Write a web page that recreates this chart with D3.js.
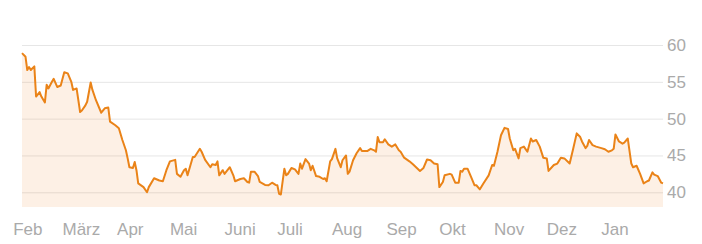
<!DOCTYPE html>
<html>
<head>
<meta charset="utf-8">
<script src="https://cdn.jsdelivr.net/npm/d3@7"></script>
<style>
    html, body { margin: 0; padding: 0; background: #fff; }
    svg { display: block; }
    text { font-family: "Liberation Sans", Arial, sans-serif; }
</style>
</head>
<body>
<svg id="chart" width="702" height="244"></svg>
<script>
const dates = [
    '2023-02-06', '2023-02-08', '2023-02-09', '2023-02-10', '2023-02-11', '2023-02-13', '2023-02-14', '2023-02-16',
    '2023-02-17', '2023-02-19', '2023-02-20', '2023-02-21', '2023-02-23', '2023-02-24', '2023-02-26', '2023-02-28',
    '2023-03-02', '2023-03-04', '2023-03-06', '2023-03-07', '2023-03-09', '2023-03-11', '2023-03-12', '2023-03-14',
    '2023-03-15', '2023-03-17', '2023-03-18', '2023-03-20', '2023-03-23', '2023-03-25', '2023-03-27', '2023-03-28',
    '2023-03-31', '2023-04-02', '2023-04-04', '2023-04-06', '2023-04-07', '2023-04-08', '2023-04-10', '2023-04-11',
    '2023-04-12', '2023-04-13', '2023-04-16', '2023-04-18', '2023-04-19', '2023-04-22', '2023-04-25', '2023-04-27',
    '2023-04-29', '2023-05-01', '2023-05-04', '2023-05-05', '2023-05-07', '2023-05-09', '2023-05-10', '2023-05-11',
    '2023-05-14', '2023-05-15', '2023-05-18', '2023-05-19', '2023-05-21', '2023-05-24', '2023-05-25', '2023-05-27',
    '2023-05-28', '2023-05-29', '2023-05-31', '2023-06-01', '2023-06-04', '2023-06-06', '2023-06-07', '2023-06-10',
    '2023-06-12', '2023-06-14', '2023-06-15', '2023-06-16', '2023-06-18', '2023-06-20', '2023-06-21', '2023-06-24',
    '2023-06-26', '2023-06-28', '2023-06-30', '2023-07-01', '2023-07-02', '2023-07-03', '2023-07-05', '2023-07-06',
    '2023-07-07', '2023-07-09', '2023-07-11', '2023-07-13', '2023-07-14', '2023-07-15', '2023-07-17', '2023-07-19',
    '2023-07-20', '2023-07-21', '2023-07-23', '2023-07-25', '2023-07-27', '2023-07-28', '2023-07-29', '2023-07-31',
    '2023-08-01', '2023-08-03', '2023-08-04', '2023-08-06', '2023-08-07', '2023-08-09', '2023-08-10', '2023-08-11',
    '2023-08-13', '2023-08-15', '2023-08-17', '2023-08-18', '2023-08-21', '2023-08-23', '2023-08-25', '2023-08-26',
    '2023-08-27', '2023-08-28', '2023-08-30', '2023-08-31', '2023-09-02', '2023-09-04', '2023-09-06', '2023-09-08',
    '2023-09-09', '2023-09-11', '2023-09-14', '2023-09-16', '2023-09-20', '2023-09-22', '2023-09-24', '2023-09-26',
    '2023-09-28', '2023-09-30', '2023-10-01', '2023-10-03', '2023-10-04', '2023-10-07', '2023-10-08', '2023-10-10',
    '2023-10-12', '2023-10-13', '2023-10-14', '2023-10-15', '2023-10-17', '2023-10-19', '2023-10-21', '2023-10-22',
    '2023-10-24', '2023-10-26', '2023-10-29', '2023-10-31', '2023-11-01', '2023-11-03', '2023-11-05', '2023-11-07',
    '2023-11-09', '2023-11-10', '2023-11-12', '2023-11-13', '2023-11-15', '2023-11-16', '2023-11-18', '2023-11-20',
    '2023-11-22', '2023-11-23', '2023-11-25', '2023-11-27', '2023-11-29', '2023-12-01', '2023-12-02', '2023-12-05',
    '2023-12-07', '2023-12-09', '2023-12-11', '2023-12-14', '2023-12-16', '2023-12-18', '2023-12-20', '2023-12-21',
    '2023-12-23', '2023-12-24', '2023-12-25', '2023-12-27', '2023-12-29', '2024-01-01', '2024-01-03', '2024-01-05',
    '2024-01-07', '2024-01-08', '2024-01-09', '2024-01-11', '2024-01-13', '2024-01-14', '2024-01-16', '2024-01-18',
    '2024-01-19', '2024-01-21', '2024-01-23', '2024-01-25', '2024-01-27', '2024-01-28', '2024-01-30', '2024-01-31',
    '2024-02-02', '2024-02-04', '2024-02-05'
];

const prices = [
    58.9, 58.4, 56.6, 57.0, 56.6, 57.1, 53.0, 53.6,
    53.0, 52.2, 54.6, 54.1, 55.0, 55.4, 54.3, 54.5,
    56.3, 56.15, 55.0, 53.9, 54.1, 50.9, 51.1, 51.8,
    52.3, 54.9, 53.9, 52.5, 50.8, 51.4, 51.5, 49.6,
    49.1, 48.7, 47.1, 45.7, 44.6, 43.4, 43.3, 44.1,
    43.0, 41.2, 40.7, 40.0, 40.7, 41.9, 41.6, 41.5,
    43.0, 44.2, 44.4, 42.5, 42.1, 43.0, 43.2, 42.3,
    44.8, 44.8, 45.9, 45.5, 44.4, 43.4, 43.8, 43.7,
    44.2, 42.3, 43.0, 42.5, 43.4, 42.3, 41.5, 41.8,
    41.9, 41.4, 41.3, 42.8, 42.8, 42.2, 41.4, 41.0,
    40.95, 41.3, 41.0, 40.95, 39.8, 39.7, 43.2, 42.3,
    42.5, 43.3, 43.1, 42.5, 43.9, 43.2, 44.5, 43.9,
    43.0, 43.6, 42.2, 42.1, 41.8, 41.9, 41.5, 44.2,
    44.5, 45.9, 44.6, 43.4, 44.35, 45.0, 42.5, 42.8,
    44.35, 45.3, 46.0, 45.6, 45.6, 45.9, 45.7, 45.5,
    47.5, 46.8, 46.8, 47.2, 46.5, 46.2, 46.5, 45.7,
    45.5, 44.7, 44.2, 43.8, 42.9, 43.3, 44.45, 44.35,
    43.9, 43.8, 40.7, 41.4, 42.3, 42.5, 42.4, 41.3,
    41.3, 42.9, 42.8, 43.2, 43.2, 42.1, 40.95, 40.95,
    40.4, 41.2, 42.3, 43.7, 43.6, 45.5, 47.75, 48.75,
    48.6, 47.3, 45.7, 45.9, 44.6, 46.0, 46.2, 45.5,
    47.3, 46.9, 47.1, 46.2, 44.7, 44.6, 42.9, 43.7,
    43.9, 44.7, 44.6, 43.9, 45.9, 48.0, 47.5, 46.9,
    46.0, 46.3, 47.1, 46.4, 46.2, 46.0, 45.85, 45.5,
    45.7, 45.9, 47.85, 46.9, 46.6, 46.75, 47.3, 43.9,
    43.4, 43.6, 42.5, 41.2, 41.5, 41.6, 42.7, 42.4,
    42.2, 41.3, 41.2
];

const monthLabels = ['Feb', 'März', 'Apr', 'Mai', 'Juni', 'Juli', 'Aug', 'Sep', 'Okt', 'Nov', 'Dez', 'Jan'];
const yTicks = [40, 45, 50, 55, 60];

const svg = d3.select('#chart');
const parse = d3.timeParse('%Y-%m-%d');

const data = dates.map((d, i) => ({ date: parse(d), value: prices[i] }));

const plot = { left: 22, right: 663, top: 45, bottom: 207 };

const x = d3.scaleTime()
    .domain([parse('2023-02-06'), parse('2024-02-05')])
    .range([plot.left, plot.right]);

const y = d3.scaleLinear()
    .domain([38, 60])
    .range([plot.bottom, plot.top]);

// gridlines + right-hand labels
const yAxis = svg.append('g')
    .attr('transform', `translate(${plot.right},0)`)
    .call(d3.axisRight(y).tickValues(yTicks).tickSize(-(plot.right - plot.left)).tickPadding(4));
yAxis.select('.domain').remove();
yAxis.selectAll('line').attr('stroke', '#e6e6e6');
yAxis.selectAll('text')
    .attr('fill', '#aaaaaa')
    .attr('font-size', 17)
    .attr('font-family', '"Liberation Sans", Arial, sans-serif');

// area
const area = d3.area()
    .x(d => x(d.date))
    .y0(plot.bottom)
    .y1(d => y(d.value));

svg.append('path')
    .datum(data)
    .attr('d', area)
    .attr('fill', '#f0872a')
    .attr('fill-opacity', 0.12);

const line = d3.line()
    .x(d => x(d.date))
    .y(d => y(d.value));

svg.append('path')
    .datum(data)
    .attr('d', line)
    .attr('fill', 'none')
    .attr('stroke', '#ea8318')
    .attr('stroke-width', 2)
    .attr('stroke-linejoin', 'round');

// month labels, left-aligned at month start
const months = d3.timeMonth.range(parse('2023-02-01'), parse('2024-02-01'));
svg.append('g')
    .selectAll('text')
    .data(months)
    .join('text')
    .attr('x', d => x(d))
    .attr('y', 235)
    .attr('fill', '#aaaaaa')
    .attr('font-size', 17)
    .text((d, i) => monthLabels[i]);
</script>
</body>
</html>
